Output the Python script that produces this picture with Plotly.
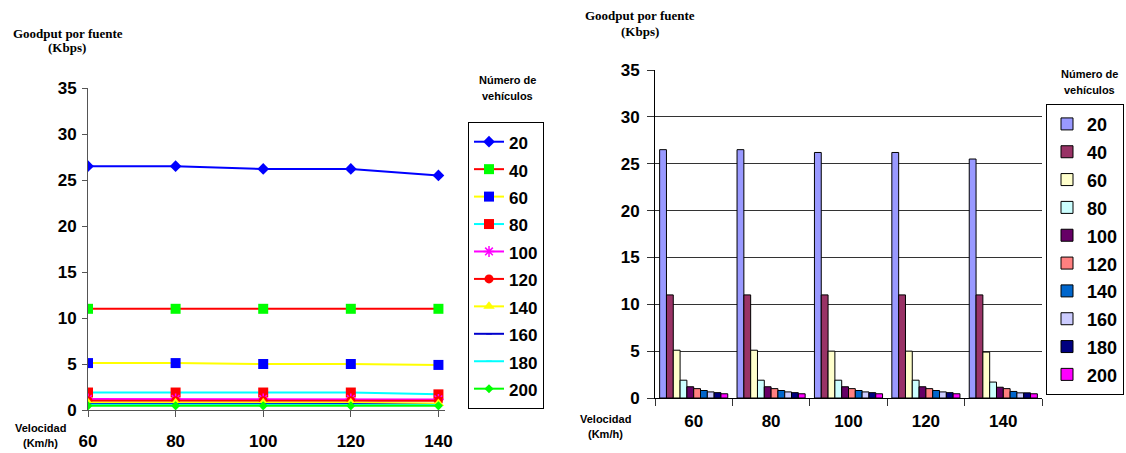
import plotly.graph_objects as go

# ---- data ----
velocidades = [60, 80, 100, 120, 140]
vel_labels = ["60", "80", "100", "120", "140"]
vehiculos = ["20", "40", "60", "80", "100", "120", "140", "160", "180", "200"]

g20 = [26.5, 26.5, 26.2, 26.2, 25.5]
g40 = [11.0, 11.0, 11.0, 11.0, 11.0]
g60 = [5.1, 5.1, 5.0, 5.0, 4.9]
g80 = [1.9, 1.9, 1.9, 1.9, 1.7]
g100 = [1.2, 1.2, 1.2, 1.2, 1.15]
g120 = [1.0, 1.0, 1.0, 1.0, 1.0]
g140 = [0.8, 0.8, 0.8, 0.8, 0.7]
g160 = [0.65, 0.65, 0.65, 0.65, 0.55]
g180 = [0.57, 0.57, 0.57, 0.57, 0.55]
g200 = [0.45, 0.45, 0.45, 0.45, 0.45]
series = [g20, g40, g60, g80, g100, g120, g140, g160, g180, g200]

W, H = 1126, 453
def px(x): return x / W
def py(y): return 1 - y / H

# line styles: (line colour, marker symbol, marker colour, marker size)
line_styles = [
    ("#0000FF", "diamond", "#0000FF", 9),
    ("#FF0000", "square", "#00FF00", 10),
    ("#FFFF00", "square", "#0000FF", 10),
    ("#00FFFF", "square", "#FF0000", 10),
    ("#FF00FF", "asterisk-open", "#FF00FF", 9),
    ("#FF0000", "circle", "#FF0000", 9),
    ("#FFFF00", "triangle-up", "#FFFF00", 10),
    ("#0000CC", "line-ew-open", "#0000CC", 4),
    ("#00FFFF", "line-ew-open", "#00FFFF", 4),
    ("#00FF00", "diamond", "#00FF00", 7),
]
bar_colors = ["#9999FF", "#993366", "#FFFFCC", "#CCFFFF", "#660066",
              "#FF8080", "#0066CC", "#CCCCFF", "#000080", "#FF00FF"]

fig = go.Figure()

for name, vals, (lc, sym, mc, ms) in zip(vehiculos, series, line_styles):
    mk = dict(symbol=sym, color=mc, size=ms)
    if sym.endswith("-open"):
        mk["line"] = dict(color=mc, width=1.5)
    fig.add_trace(go.Scatter(
        x=velocidades, y=vals, name="<span style='font-size:17px'>%s</span>" % name,
        mode="lines+markers",
        line=dict(color=lc, width=2), marker=mk,
        xaxis="x", yaxis="y", legend="legend"))

for name, vals, c in zip(vehiculos, series, bar_colors):
    fig.add_trace(go.Bar(
        x=vel_labels, y=vals, name="<span style='font-size:18px'>%s</span>" % name,
        marker=dict(color=c, line=dict(color="#000000", width=1)),
        xaxis="x2", yaxis="y2", legend="legend2"))

tick_font = dict(family="Liberation Sans, Arial", size=17, color="#000000", weight="bold")

fig.update_layout(
    width=W, height=H,
    margin=dict(l=0, r=0, t=0, b=0, autoexpand=False),
    paper_bgcolor="white", plot_bgcolor="white",
    barmode="group", bargap=0.12, bargroupgap=0,
    xaxis=dict(domain=[px(88), px(445)], range=[60, 141.5],
               tickvals=velocidades, ticktext=vel_labels,
               showgrid=False, zeroline=False, showline=True, linecolor="#555555", linewidth=1,
               ticks="outside", ticklen=6, tickcolor="#555555",
               tickfont=tick_font, ticklabelstandoff=10),
    yaxis=dict(domain=[py(410), py(88)], range=[0, 35], dtick=5,
               showgrid=False, zeroline=False, showline=True, linecolor="#555555", linewidth=1,
               ticks="outside", ticklen=5, tickcolor="#555555",
               tickfont=tick_font, ticklabelstandoff=2),
    xaxis2=dict(domain=[px(655), px(1042)], type="category",
                showgrid=False, zeroline=False, showline=True, linecolor="#000000", linewidth=1,
                ticks="outside", ticklen=7, tickcolor="#333333", tickson="boundaries",
                tickfont=tick_font, ticklabelstandoff=8, anchor="y2"),
    yaxis2=dict(domain=[py(398), py(70)], range=[0, 35], dtick=5,
                showgrid=True, gridcolor="#333333", gridwidth=1,
                zeroline=False, showline=True, linecolor="#000000", linewidth=1,
                ticks="outside", ticklen=7, tickcolor="#333333",
                tickfont=tick_font, ticklabelstandoff=4, anchor="x2"),
    legend=dict(x=px(468), y=py(122), xanchor="left", yanchor="top",
                bordercolor="#000000", borderwidth=1, bgcolor="white",
                font=dict(family="Liberation Sans, Arial", size=18.8, color="#000000", weight="bold"),
                tracegroupgap=0, itemwidth=30),
    legend2=dict(x=px(1124), y=py(104), xanchor="right", yanchor="top",
                 bordercolor="#000000", borderwidth=1, bgcolor="white",
                 font=dict(family="Liberation Sans, Arial", size=19.1, color="#000000", weight="bold"),
                 tracegroupgap=0, itemwidth=30),
    showlegend=True,
)

serif = dict(family="Liberation Serif, Times New Roman", size=13, color="#000000", weight="bold")
sans = dict(family="Liberation Sans, Arial", size=11, color="#000000", weight="bold")
ann = [
    ("Goodput por fuente", 68, 33, serif),
    ("(Kbps)", 67, 48, serif),
    ("Goodput por fuente", 640, 16, serif),
    ("(Kbps)", 640, 31, serif),
    ("Velocidad", 40, 428, sans),
    ("(Km/h)", 40, 443, sans),
    ("Velocidad", 605, 419, sans),
    ("(Km/h)", 605, 434, sans),
    ("Número de", 507, 80, sans),
    ("vehículos", 507, 96, sans),
    ("Número de", 1089, 74, sans),
    ("vehículos", 1089, 90, sans),
]
for t, x, y, f in ann:
    fig.add_annotation(text=t, x=px(x), y=py(y), xref="paper", yref="paper",
                       showarrow=False, font=f, xanchor="center", yanchor="middle")

fig.write_html("out.html", config={"displayModeBar": False},
               post_script="document.body.style.margin='0';")
